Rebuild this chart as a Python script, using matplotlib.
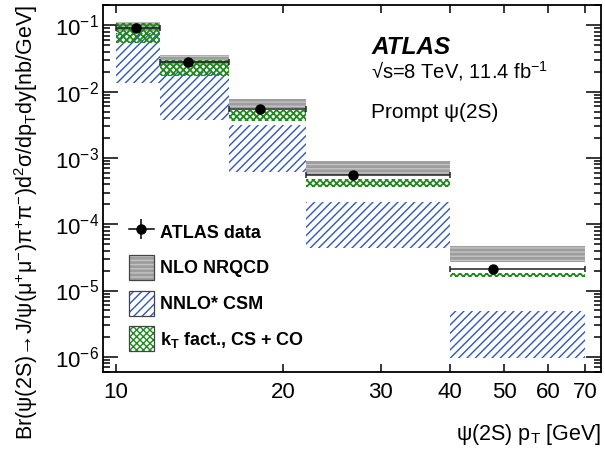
import numpy as np
import matplotlib
matplotlib.use("Agg")
import matplotlib.pyplot as plt
from matplotlib.patches import Patch
from matplotlib.lines import Line2D
from matplotlib.ticker import FixedLocator, FixedFormatter, LogLocator, NullFormatter

plt.rcParams['font.family'] = ['Liberation Sans', 'DejaVu Sans']
plt.rcParams['mathtext.fontset'] = 'custom'
plt.rcParams['mathtext.rm'] = 'Liberation Sans'
plt.rcParams['mathtext.it'] = 'Liberation Sans:italic'
plt.rcParams['mathtext.bf'] = 'Liberation Sans:bold'

# ---- data ----
bin_edges = [10, 12, 16, 22, 40, 70]
data_x = [10.85, 13.46, 18.18, 26.7, 47.7]
data_y = [0.0904, 0.0277, 0.00548, 5.55e-4, 2.12e-5]
data_yerr = [0.005, 0.0015, 0.0003, 3.0e-5, 1.5e-6]

nrqcd_lo = [0.083, 0.0253, 0.00562, 5.55e-4, 2.73e-5]
nrqcd_hi = [0.112, 0.0358, 0.00767, 9.0e-4, 4.71e-5]

csm_lo = [0.0134, 0.00374, 6.21e-4, 4.35e-5, 9.7e-7]
csm_hi = [0.077, 0.0200, 0.00315, 2.19e-4, 4.92e-6]

kt_lo = [0.0548, 0.0173, 0.00366, 3.65e-4, 1.62e-5]
kt_hi = [0.110, 0.0301, 0.0053, 4.82e-4, 1.82e-5]

x_ticks = [10, 20, 30, 40, 50, 60, 70]
x_ticklabels = ['10', '20', '30', '40', '50', '60', '70']

legend_labels = ['ATLAS data', 'NLO NRQCD', 'NNLO* CSM', r'k$_{\mathbf{T}}$ fact., CS + CO']

# ---- figure ----
fig = plt.figure(figsize=(6.05, 4.5), dpi=100)
ax = fig.add_axes([103/605, 1-372/450, (601-103)/605, (372-5)/450])
ax.set_xscale('log')
ax.set_yscale('log')
ax.set_xlim(9.47, 74.8)
ax.set_ylim(5.9e-7, 0.203)

left = np.array(bin_edges[:-1], dtype=float)
right = np.array(bin_edges[1:], dtype=float)
width = right - left

GRAY = '#9d9d9d'
GRAY_H = '#c4c4c4'
BLUE = '#2f55c8'
GREEN = '#1e8a1e'
H_GRAY, H_BLUE, H_GREEN = '----', '////', 'xxxxx'

def hbar(lo, hi, **kw):
    lo = np.array(lo); hi = np.array(hi)
    return ax.bar(left, hi - lo, width=width, bottom=lo, align='edge', **kw)

with plt.rc_context({'hatch.linewidth': 1.0}):
    b1 = hbar(nrqcd_lo, nrqcd_hi, facecolor=GRAY, edgecolor=GRAY_H, hatch=H_GRAY, linewidth=0, zorder=1)
with plt.rc_context({'hatch.linewidth': 1.0}):
    b2 = hbar(csm_lo, csm_hi, facecolor='none', edgecolor=BLUE, hatch=H_BLUE, linewidth=0, zorder=2)
with plt.rc_context({'hatch.linewidth': 1.3}):
    b3 = hbar(kt_lo, kt_hi, facecolor='none', edgecolor=GREEN, hatch=H_GREEN, linewidth=0, zorder=3)

for grp, hl in ((b1, 1.0), (b2, 1.0), (b3, 1.3)):
    for p in grp:
        if hasattr(p, 'set_hatch_linewidth'):
            p.set_hatch_linewidth(hl)

# data x-errors (bin widths) with caps
dx = np.array(data_x)
xerr = [dx - left, right - dx]
ax.errorbar(data_x, data_y, xerr=xerr, fmt='none', ecolor='#222222', elinewidth=1.1,
            capsize=2.5, capthick=1.1, zorder=4)
ax.errorbar(data_x, data_y, yerr=data_yerr, fmt='o', color='black', ms=6.5, elinewidth=1.1,
            capsize=0, zorder=5)

# ---- axes styling ----
for s in ax.spines.values():
    s.set_linewidth(1.3)
ax.xaxis.set_major_locator(FixedLocator(x_ticks))
ax.xaxis.set_major_formatter(FixedFormatter(x_ticklabels))
ax.xaxis.set_minor_locator(FixedLocator([]))
ax.yaxis.set_major_locator(LogLocator(base=10, numticks=20))
ax.yaxis.set_minor_locator(LogLocator(base=10, subs=np.arange(2, 10), numticks=20))
ax.yaxis.set_minor_formatter(NullFormatter())
ax.tick_params(axis='x', which='major', direction='in', length=6, width=1.1, top=True,
               labelsize=16, pad=7)
ax.tick_params(axis='y', which='major', direction='in', length=11, width=1.1, right=True,
               labelsize=16, pad=3)
ax.tick_params(axis='y', which='minor', direction='in', length=5, width=1.1, right=True)

ax.set_xlabel(r'ψ(2S) p$_{\mathrm{T}}$ [GeV]', fontsize=15.5, loc='right')
ax.xaxis.set_label_coords(1.0, -0.135)
ax.set_ylabel(r'Br(ψ(2S)→J/ψ(μ$^{+}$μ$^{-}$)π$^{+}$π$^{-}$)d$^{2}$σ/dp$_{\mathrm{T}}$dy[nb/GeV]',
              fontsize=15.5, loc='top')
ax.yaxis.set_label_coords(-0.126, 1.0)

# ---- annotations ----
ax.text(0.539, 0.866, 'ATLAS', transform=ax.transAxes, fontsize=17.5, fontweight='bold',
        fontstyle='italic', ha='left', va='baseline')
ax.text(0.539, 0.801, r'√s=8 TeV, 11.4 fb$^{-1}$', transform=ax.transAxes, fontsize=14.5,
        ha='left', va='baseline')
ax.text(0.539, 0.693, 'Prompt ψ(2S)', transform=ax.transAxes, fontsize=15,
        ha='left', va='baseline')

# ---- legend ----
h_data = (Line2D([], [], color='black', lw=1.1, marker='o', ms=6.5),
          Line2D([], [], color='black', lw=0, marker='|', ms=15, mew=1.1))
border = dict(fill=False, edgecolor='#444444', linewidth=0.9)
h_nrqcd = (Patch(facecolor=GRAY, edgecolor=GRAY_H, hatch=H_GRAY, linewidth=0), Patch(**border))
h_csm = (Patch(facecolor='white', edgecolor=BLUE, hatch=H_BLUE, linewidth=0), Patch(**border))
h_kt = (Patch(facecolor='white', edgecolor=GREEN, hatch=H_GREEN, linewidth=0), Patch(**border))
leg = ax.legend([h_data, h_nrqcd, h_csm, h_kt], legend_labels,
                loc='upper left', bbox_to_anchor=(0.052, 0.4155), frameon=False,
                borderaxespad=0, borderpad=0, handlelength=1.385, handleheight=1.754,
                handletextpad=0.35, labelspacing=0.585,
                prop={'size': 13, 'weight': 'bold'})

fig.savefig('out.png', dpi=100)
